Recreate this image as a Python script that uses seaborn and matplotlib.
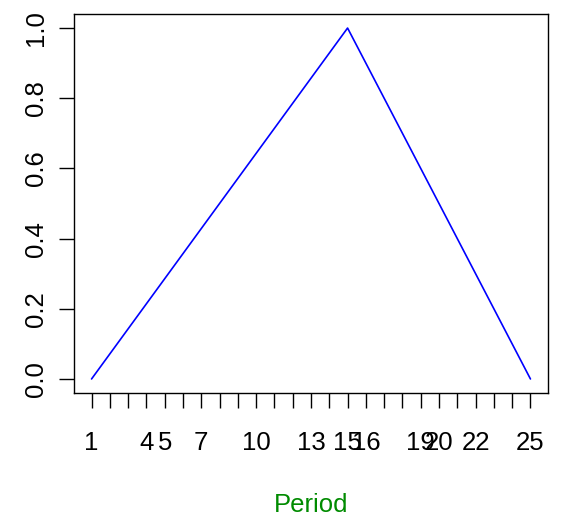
import matplotlib
matplotlib.use("Agg")
import matplotlib.pyplot as plt
import seaborn as sns
import pandas as pd

period = [1, 15, 25]
value = [0.0, 1.0, 0.0]
tick_positions = list(range(1, 26))
label_positions = [1, 4, 5, 7, 10, 13, 15, 16, 19, 20, 22, 25]
y_ticks = [0.0, 0.2, 0.4, 0.6, 0.8, 1.0]

sns.set_style("white")
plt.rcParams['font.family'] = ['Liberation Sans', 'DejaVu Sans']

df = pd.DataFrame({"Period": period, "Value": value})

fig = plt.figure(figsize=(5.61, 5.21), dpi=100)
ax = fig.add_axes([74/561, (521-393)/521, 474/561, 379/521])
sns.lineplot(data=df, x="Period", y="Value", ax=ax, color="blue", linewidth=1.2)

ax.set_xlim(1 - 24*0.04, 25 + 24*0.04)
ax.set_ylim(0 - 0.04, 1 + 0.04)

ax.set_xticks(tick_positions)
ax.set_xticklabels([str(p) if p in label_positions else "" for p in tick_positions])
ax.set_yticks(y_ticks)
ax.set_yticklabels([f"{v:.1f}" for v in y_ticks], rotation=90, va="center")

ax.tick_params(axis="x", direction="out", length=11, width=1, pad=16, labelsize=18.5, colors="black")
ax.tick_params(axis="y", direction="out", length=10.5, width=1, pad=8, labelsize=18.5, colors="black")
ax.tick_params(bottom=True, left=True)

for s in ax.spines.values():
    s.set_visible(True)
    s.set_color("black")
    s.set_linewidth(1)

ax.set_xlabel("Period", color="#008B00", fontsize=18.5, labelpad=28)
ax.set_ylabel("")

fig.savefig("out.png", dpi=100)
